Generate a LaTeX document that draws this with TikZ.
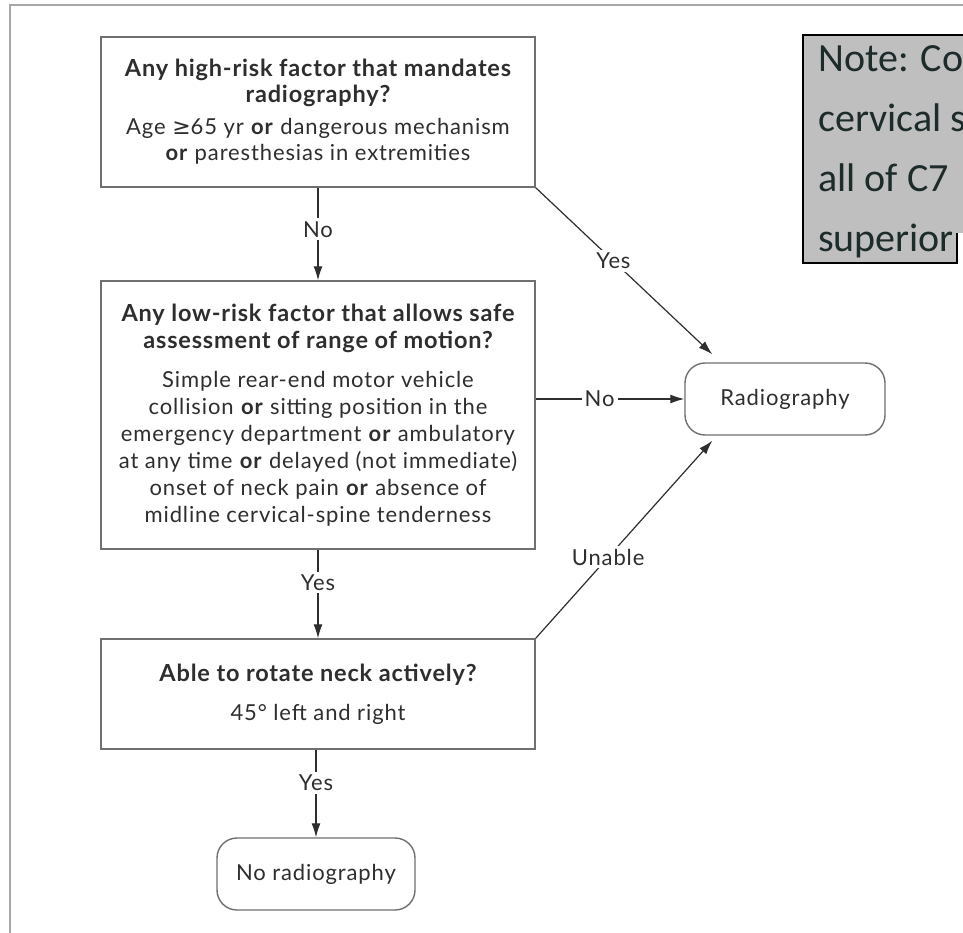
\documentclass[tikz,border=0pt]{standalone}
\usepackage{fontspec}
\setmainfont[LetterSpace=4]{Lato}
\newfontfamily\titlefont[LetterSpace=3.5]{Lato}
\newfontfamily\notefont{Carlito}
\newfontfamily\symfont{DejaVu Sans}
\usetikzlibrary{arrows.meta}
\definecolor{txt}{HTML}{2E2E2E}
\definecolor{boxline}{HTML}{707070}
\definecolor{frameline}{HTML}{A8A8A8}
\definecolor{notefill}{HTML}{BFBFBF}
\definecolor{notetxt}{HTML}{1E2B2B}
\newcommand{\ttl}[1]{{\titlefont\bfseries\fontsize{23.5}{26}\selectfont #1}}
\begin{document}
\begin{tikzpicture}[x=1pt,y=-1pt,
  qbox/.style={draw=boxline, line width=1.4pt, rectangle, minimum width=434pt,
    align=center, text=txt, inner sep=0pt},
  endbox/.style={draw=boxline, line width=1.4pt, rounded corners=20pt,
    minimum width=200pt, minimum height=72pt, align=center, text=txt,
    font=\fontsize{22}{26}\selectfont},
  conn/.style={draw=txt, line width=1.2pt, -{Latex[length=14pt,width=9pt]}},
  lab/.style={fill=white, text=txt, inner sep=3pt, font=\fontsize{22}{24}\selectfont}
]
\useasboundingbox (0,0) rectangle (963,933);
\fill[white] (0,0) rectangle (963,933);
\draw[frameline, line width=2.5pt] (10,940) -- (10,5) -- (970,5);

% note box
\fill[notefill] (803,35) -- (975,35) -- (975,233) -- (957,233) -- (957,263) -- (803,263) -- cycle;
\draw[black, line width=2pt] (975,35) -- (803,35) -- (803,263) -- (957,263) -- (957,233);
\node[anchor=north west, inner sep=0pt, align=left, text=notetxt,
  font=\notefont\fontsize{40}{60}\selectfont] (note) at (818,45)
  {Note: Co\\cervical s\\all of C7\\superior};

\node[qbox, minimum height=150pt, font=\fontsize{22}{26}\selectfont] (b1) at (318,112)
  {\ttl{Any high-risk factor that mandates}\\
   \ttl{radiography?}\\[6pt]
   Age {\symfont ≥}65 yr \textbf{or} dangerous mechanism\\
   \textbf{or} paresthesias in extremities};

\node[qbox, minimum height=268pt, font=\fontsize{22}{27}\selectfont] (b2) at (318,415)
  {\ttl{Any low-risk factor that allows safe}\\
   \ttl{assessment of range of motion?}\\[12pt]
   Simple rear-end motor vehicle\\
   collision \textbf{or} sitting position in the\\
   emergency department \textbf{or} ambulatory\\
   at any time \textbf{or} delayed (not immediate)\\
   onset of neck pain \textbf{or} absence of\\
   midline cervical-spine tenderness};

\node[qbox, minimum height=110pt, font=\fontsize{22}{26}\selectfont] (b3) at (318,694)
  {\ttl{Able to rotate neck actively?}\\[13pt]
   45° left and right};

\node[endbox, minimum width=198pt] (b4) at (316,874) {No radiography};
\node[endbox] (rad) at (785,399) {Radiography};

\draw[conn] (b1.south) -- node[lab, pos=0.45] {No} (b2.north);
\draw[conn] (b2.south) -- node[lab, pos=0.37] {Yes} (b3.north);
\draw[conn] (b3.south -| b4.north) -- node[lab, pos=0.38] {Yes} (b4.north);
\draw[conn] (b2.east |- rad.west) -- node[lab, pos=0.43] {No} (rad.west);
\draw[conn] (b1.south east) -- node[lab, pos=0.44] {Yes} ([shift={(28,-8)}]rad.north west);
\draw[conn] (b3.north east) -- node[lab, pos=0.41] {Unable} ([shift={(28,5)}]rad.south west);
\end{tikzpicture}
\end{document}
